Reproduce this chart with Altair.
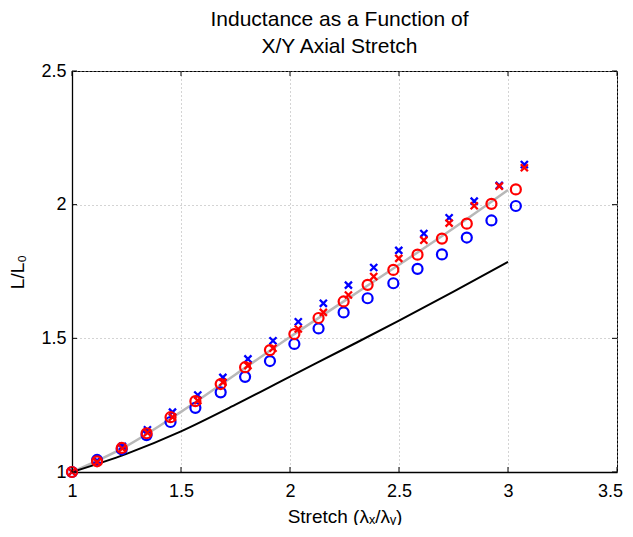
import altair as alt
import pandas as pd

# ---------------- data ----------------
title_lines = ["Inductance as a Function of", "X/Y Axial Stretch"]
x_title = "Stretch (λₓ/λᵧ)"
y_title = "L/L₀"

x_ticks = [1, 1.5, 2, 2.5, 3, 3.5]
y_ticks = [1, 1.5, 2, 2.5]

circle_x = [1.0, 1.115, 1.228, 1.342, 1.452, 1.566, 1.682, 1.794, 1.908, 2.020,
            2.131, 2.246, 2.356, 2.474, 2.585, 2.697, 2.811, 2.924, 3.036]
blue_circle_y = [1.0, 1.045, 1.085, 1.138, 1.187, 1.240, 1.298, 1.356, 1.415, 1.479,
                 1.537, 1.597, 1.650, 1.706, 1.760, 1.814, 1.877, 1.941, 1.995]
red_circle_y = [1.0, 1.040, 1.090, 1.145, 1.205, 1.265, 1.329, 1.392, 1.456, 1.516,
                1.576, 1.638, 1.700, 1.756, 1.813, 1.873, 1.929, 2.003, 2.057]

cross_x = [1.0, 1.115, 1.231, 1.346, 1.461, 1.577, 1.692, 1.807, 1.922, 2.038,
           2.153, 2.268, 2.384, 2.499, 2.614, 2.730, 2.845, 2.960, 3.075]
blue_cross_y = [1.0, 1.043, 1.096, 1.158, 1.224, 1.288, 1.354, 1.423, 1.491, 1.562,
                1.631, 1.699, 1.765, 1.829, 1.892, 1.951, 2.013, 2.072, 2.150]
red_cross_y = [1.0, 1.037, 1.088, 1.147, 1.205, 1.267, 1.336, 1.398, 1.463, 1.535,
               1.597, 1.662, 1.731, 1.799, 1.867, 1.931, 1.996, 2.069, 2.138]

curve_x = [1.0, 1.25, 1.5, 1.75, 2.0, 2.25, 2.5, 2.75, 3.0]
gray_y = [1.0, 1.097, 1.225, 1.365, 1.505, 1.640, 1.775, 1.912, 2.055]
black_y = [1.0, 1.068, 1.152, 1.252, 1.357, 1.461, 1.566, 1.675, 1.786]

# ---------------- chart ----------------
W, H = 545, 401
FONT = "Liberation Sans"

xs = alt.Scale(domain=[1, 3.5], nice=False, zero=False)
ys = alt.Scale(domain=[1, 2.5], nice=False, zero=False)

AX = dict(
    format="~g", grid=True, ticks=False,
    labelFont=FONT, labelFontSize=18, labelColor="black",
    titleFont=FONT, titleFontSize=19, titleFontWeight="normal", titleColor="black",
    domainColor="black", domainWidth=1.3,
    gridColor="#a8a8a8", gridDash=[1, 3], gridWidth=1, gridOpacity=1,
    labelFlush=False, labelOverlap=False,
)


def xaxis():
    return alt.Axis(values=x_ticks, title=x_title, labelPadding=10, titleX=W / 2,
                    titleY=50, titleBaseline="alphabetic", titleAlign="center",
                    labelOffset={"condition": {"test": "datum.value === 3.5", "value": -7},
                                 "value": 0},
                    **AX)


def yaxis():
    return alt.Axis(values=y_ticks, title=y_title, labelPadding=6, titleAngle=270,
                    titleX=-49, titleY=H / 2, titleBaseline="alphabetic",
                    titleAlign="center", **AX)


def X(field="x"):
    return alt.X(f"{field}:Q", scale=xs, axis=xaxis())


def Y(field="y"):
    return alt.Y(f"{field}:Q", scale=ys, axis=yaxis())


gray_df = pd.DataFrame({"x": curve_x, "y": gray_y})
black_df = pd.DataFrame({"x": curve_x, "y": black_y})
bc_df = pd.DataFrame({"x": circle_x, "y": blue_circle_y})
rc_df = pd.DataFrame({"x": circle_x, "y": red_circle_y})
bx_df = pd.DataFrame({"x": cross_x, "y": blue_cross_y})
rx_df = pd.DataFrame({"x": cross_x, "y": red_cross_y})
xt_df = pd.DataFrame({"x": x_ticks})
yt_df = pd.DataFrame({"y": y_ticks})

gray = alt.Chart(gray_df).mark_line(color="#b8b8b8", strokeWidth=2.5, interpolate="monotone").encode(x=X(), y=Y())
black = alt.Chart(black_df).mark_line(color="black", strokeWidth=2, interpolate="monotone").encode(x=X(), y=Y())

CROSS = "M-1,-1L1,1M-1,1L1,-1"
bc = alt.Chart(bc_df).mark_point(shape="circle", size=100, filled=False, color="#0000ff",
                                 strokeWidth=2.2, opacity=1).encode(x=X(), y=Y())
rc = alt.Chart(rc_df).mark_point(shape="circle", size=100, filled=False, color="#ff0000",
                                 strokeWidth=2.2, opacity=1).encode(x=X(), y=Y())
bx = alt.Chart(bx_df).mark_point(shape=CROSS, size=50, filled=False, color="#0000ff",
                                 strokeWidth=2.3, opacity=1).encode(x=X(), y=Y())
rx = alt.Chart(rx_df).mark_point(shape=CROSS, size=50, filled=False, color="#ff0000",
                                 strokeWidth=2.3, opacity=1).encode(x=X(), y=Y())

TL = 5
tick_bottom = alt.Chart(xt_df).mark_rule(color="black", strokeWidth=1).encode(
    x=X(), y=alt.value(H), y2=alt.value(H - TL))
tick_top = alt.Chart(xt_df).mark_rule(color="black", strokeWidth=1).encode(
    x=X(), y=alt.value(0), y2=alt.value(TL))
tick_left = alt.Chart(yt_df).mark_rule(color="black", strokeWidth=1).encode(
    y=Y(), x=alt.value(0), x2=alt.value(TL))
tick_right = alt.Chart(yt_df).mark_rule(color="black", strokeWidth=1).encode(
    y=Y(), x=alt.value(W), x2=alt.value(W - TL))

chart = alt.layer(
    gray, black, bc, bx, rc, rx, tick_bottom, tick_top, tick_left, tick_right
).properties(
    width=W, height=H,
    background="white",
    title=alt.TitleParams(text=title_lines, font=FONT, fontSize=21, fontWeight="normal",
                          color="black", lineHeight=27, offset=5, dx=-5, anchor="middle"),
    autosize=alt.AutoSizeParams(type="none"),
    padding={"left": 64, "top": 63, "right": 8, "bottom": 53},
).configure_view(
    stroke="black", strokeWidth=1
)

chart.save("out.html", embed_options={"renderer": "svg", "actions": False})
